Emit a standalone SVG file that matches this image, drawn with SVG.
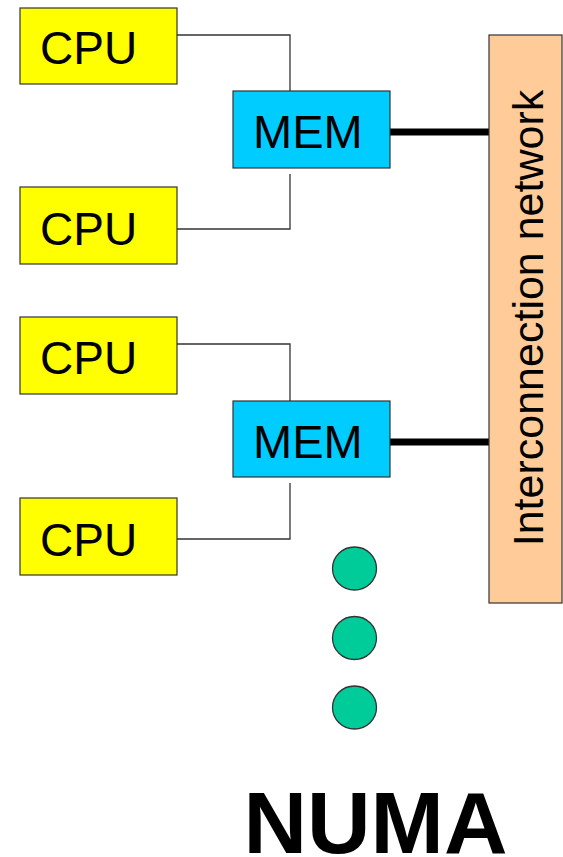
<svg xmlns="http://www.w3.org/2000/svg" width="563" height="857" viewBox="0 0 563 857">
<style>
.cpu{fill:#FFFF00;stroke:#333;stroke-width:1.2}
.mem{fill:#00CCFF;stroke:#333;stroke-width:1.2}
.net{fill:#FFCC99;stroke:#333;stroke-width:1.2}
.dot{fill:#00CC99;stroke:#333;stroke-width:1.3}
.lbl{font-family:"Liberation Sans",Arial,sans-serif;fill:#000}
.thin{fill:none;stroke:#333;stroke-width:1.3}
.thick{fill:none;stroke:#000;stroke-width:7}
</style>
<rect width="563" height="857" fill="#fff"/>
<g id="connectors">
<polyline class="thin" points="177,35 290,35 290,91"/>
<polyline class="thin" points="290,174 290,229 177,229"/>
<polyline class="thin" points="177,344 290,344 290,401"/>
<polyline class="thin" points="290,483 290,539 177,539"/>
<line class="thick" x1="390" y1="132" x2="489" y2="132"/>
<line class="thick" x1="390" y1="442" x2="489" y2="442"/>
</g>
<g id="cpu1"><rect class="cpu" x="20" y="8" width="157" height="76"/><text class="lbl" x="40" y="64" font-size="46">CPU</text></g>
<g id="cpu2"><rect class="cpu" x="20" y="187" width="157" height="77"/><text class="lbl" x="40" y="245" font-size="46">CPU</text></g>
<g id="mem1"><rect class="mem" x="233" y="91" width="157" height="77"/><text class="lbl" x="253" y="148" font-size="47">MEM</text></g>
<g id="cpu3"><rect class="cpu" x="20" y="317" width="157" height="77"/><text class="lbl" x="40" y="374" font-size="46">CPU</text></g>
<g id="cpu4"><rect class="cpu" x="20" y="498" width="157" height="77"/><text class="lbl" x="40" y="556" font-size="46">CPU</text></g>
<g id="mem2"><rect class="mem" x="233" y="401" width="157" height="76"/><text class="lbl" x="253" y="458" font-size="47">MEM</text></g>
<g id="network"><rect class="net" x="489" y="35" width="73" height="568"/><text class="lbl" transform="translate(543,318) rotate(-90)" text-anchor="middle" font-size="43">Interconnection network</text></g>
<g id="dots">
<ellipse class="dot" cx="354.5" cy="568.5" rx="22" ry="21.5"/>
<ellipse class="dot" cx="354.5" cy="638" rx="22" ry="21.5"/>
<ellipse class="dot" cx="354.5" cy="707.5" rx="22" ry="21.5"/>
</g>
<g id="title"><text class="lbl" x="375.5" y="853" text-anchor="middle" font-size="88" font-weight="bold">NUMA</text></g>
</svg>
